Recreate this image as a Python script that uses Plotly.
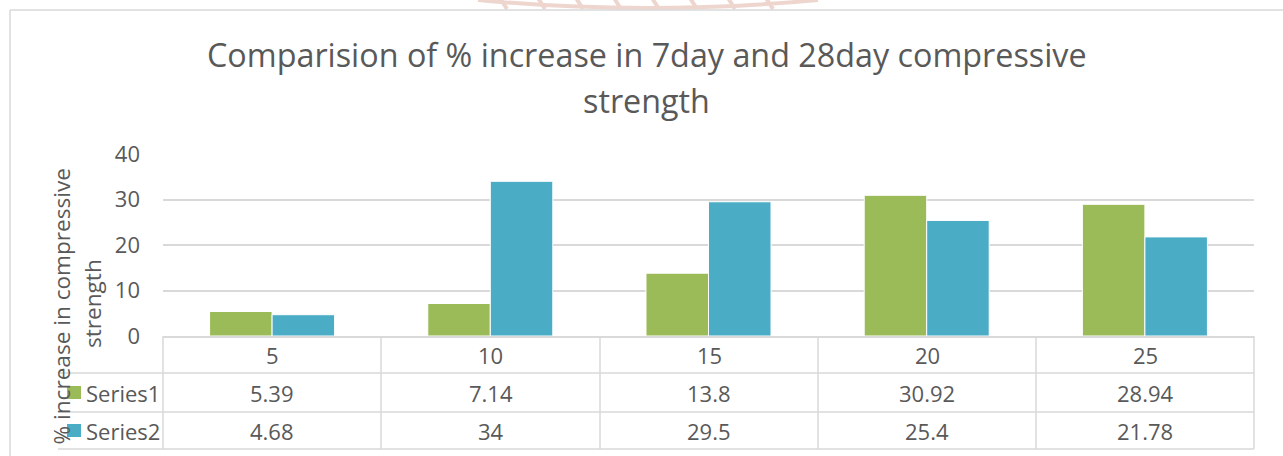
import plotly.graph_objects as go

categories = ["5", "10", "15", "20", "25"]
series1 = [5.39, 7.14, 13.8, 30.92, 28.94]
series2 = [4.68, 34, 29.5, 25.4, 21.78]
series_names = ["Series1", "Series2"]
series_labels1 = ["5.39", "7.14", "13.8", "30.92", "28.94"]
series_labels2 = ["4.68", "34", "29.5", "25.4", "21.78"]
y_ticks = [0, 10, 20, 30, 40]
title_lines = ["Comparision of % increase in 7day and 28day compressive", "strength"]
ytitle_lines = ["% increase in compressive", "strength"]

W, H = 1283, 456
L, R, T, B = 163, 1254, 154, 336
FONT = "Open Sans"
TXT = "#595959"
GRID = "#d9d9d9"
GREEN = "#9BBB59"
BLUE = "#4BACC6"
WM = "#eed6ce"
FS = 22


def px(x):
    return (x - L) / (R - L)


def py(y):
    return (B - y) / (B - T)


fig = go.Figure()
fig.add_trace(go.Bar(x=categories, y=series1, name=series_names[0],
                     marker=dict(color=GREEN, line=dict(color="white", width=1))))
fig.add_trace(go.Bar(x=categories, y=series2, name=series_names[1],
                     marker=dict(color=BLUE, line=dict(color="white", width=1))))

shapes = []
# faint watermark remnant at the top edge
shapes.append(dict(type="path", xref="paper", yref="paper",
                   path=f"M {px(478)} {py(0)} Q {px(645)} {py(16)} {px(818)} {py(0)}",
                   line=dict(color=WM, width=4)))
for xs in range(500, 800, 38):
    shapes.append(dict(type="line", xref="paper", yref="paper", x0=px(xs), x1=px(xs + 7),
                       y0=py(-2), y1=py(9), line=dict(color=WM, width=4)))
# outer frame
shapes.append(dict(type="line", xref="paper", yref="paper", x0=px(10), x1=px(1290), y0=py(10), y1=py(10),
                   line=dict(color=GRID, width=1.5)))
shapes.append(dict(type="line", xref="paper", yref="paper", x0=px(10), x1=px(10), y0=py(10), y1=py(460),
                   line=dict(color=GRID, width=1.5)))
# table lines
col_edges = [163, 381, 600, 818, 1036, 1254]
for xe in col_edges:
    shapes.append(dict(type="line", xref="paper", yref="paper", x0=px(xe), x1=px(xe), y0=py(336), y1=py(449),
                       line=dict(color=GRID, width=1.5)))
for ye in [373, 412, 449]:
    shapes.append(dict(type="line", xref="paper", yref="paper", x0=px(58), x1=px(1254), y0=py(ye), y1=py(ye),
                       line=dict(color=GRID, width=1.5)))
# legend keys
for (y0, y1), col in zip([(386, 399), (424, 437)], [GREEN, BLUE]):
    shapes.append(dict(type="rect", xref="paper", yref="paper", x0=px(67), x1=px(81), y0=py(y1), y1=py(y0),
                       fillcolor=col, line=dict(width=0)))

ann = []
# title (two lines)
for t, yc in zip(title_lines, [53.5, 99.5]):
    ann.append(dict(text=t, xref="paper", yref="paper", x=px(646.5), y=py(yc), xanchor="center",
                    yanchor="middle", showarrow=False, font=dict(family=FONT, size=32.3, color=TXT)))
# y axis title (two rotated lines)
for t, xc, yc in zip(ytitle_lines, [61, 92], [306.5, 304]):
    ann.append(dict(text=t, textangle=-90, xref="paper", yref="paper", x=px(xc), y=py(yc),
                    xanchor="center", yanchor="middle", showarrow=False,
                    font=dict(family=FONT, size=22.6, color=TXT)))
row_y = [355, 392.5, 430.5]
for i, c in enumerate(categories):
    xc = (col_edges[i] + col_edges[i + 1]) / 2
    for yc, t in zip(row_y, [c, series_labels1[i], series_labels2[i]]):
        ann.append(dict(text=t, xref="paper", yref="paper", x=px(xc), y=py(yc), xanchor="center",
                        yanchor="middle", showarrow=False, font=dict(family=FONT, size=FS, color=TXT)))
for yc, n in zip(row_y[1:], series_names):
    ann.append(dict(text=n, xref="paper", yref="paper", x=px(84), y=py(yc), xanchor="left",
                    yanchor="middle", showarrow=False, font=dict(family=FONT, size=FS, color=TXT)))

fig.update_layout(
    width=W, height=H,
    margin=dict(l=L, r=W - R, t=T, b=H - B, pad=0),
    paper_bgcolor="white", plot_bgcolor="white",
    showlegend=False,
    barmode="group", bargap=0.427, bargroupgap=0,
    shapes=shapes, annotations=ann,
    xaxis=dict(type="category", showticklabels=False, showgrid=False, zeroline=False,
               showline=True, linecolor=GRID, linewidth=1.5, ticks=""),
    yaxis=dict(range=[0, 40], tickvals=y_ticks, showgrid=True, gridcolor=GRID, gridwidth=1.5,
               zeroline=False, showline=False, ticks="", ticklabelstandoff=22,
               tickfont=dict(family=FONT, size=FS, color=TXT)),
)
fig.write_html("out.html")
